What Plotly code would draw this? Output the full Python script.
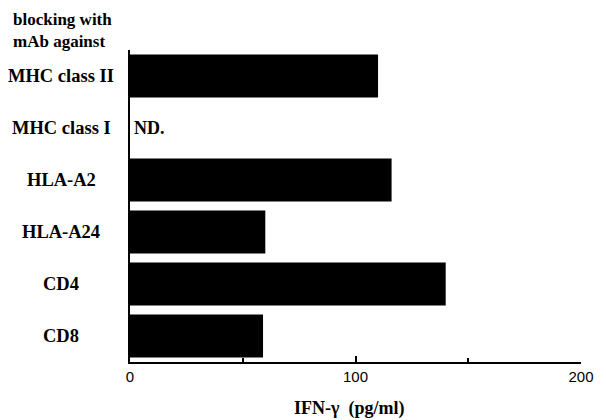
import plotly.graph_objects as go

categories = ["MHC class II", "MHC class I", "HLA-A2", "HLA-A24", "CD4", "CD8"]
ifn_gamma = [110, None, 116, 60, 140, 59]
nd_category = "MHC class I"
nd_label = "ND."
tick_values = [0, 100, 200]
tick_labels = ["0", "100", "200"]
header_text = "blocking with<br>mAb against"
x_title = "IFN-\u03b3  (pg/ml)"

serif = "Liberation Serif, Times New Roman, serif"
sans = "Liberation Sans, Arial, sans-serif"

fig = go.Figure()
fig.add_trace(go.Bar(
    y=categories, x=ifn_gamma, orientation="h",
    marker=dict(color="black", line=dict(width=0)),
    hoverinfo="skip",
))

L, R, T, B = 130, 16, 50, 58
W, H = 606, 420
pw = W - L - R
ph = H - T - B

def px_to_paper_x(px):
    return (px - L) / pw

def px_to_paper_y(py):
    return (H - B - py) / ph

annotations = []
for c in categories:
    annotations.append(dict(
        x=px_to_paper_x(60), xref="paper", y=c, yref="y",
        text="<b>" + c + "</b>", showarrow=False, xanchor="center", yanchor="middle",
        font=dict(family=serif, size=18.5, color="black"),
    ))
annotations.append(dict(
    x=px_to_paper_x(132), xref="paper", y=nd_category, yref="y",
    text="<b>" + nd_label + "</b>", showarrow=False, xanchor="left", yanchor="middle",
    font=dict(family=serif, size=18, color="black"),
))
annotations.append(dict(
    x=px_to_paper_x(9), xref="paper", y=px_to_paper_y(8), yref="paper",
    text="<b>" + header_text + "</b>", showarrow=False, xanchor="left", yanchor="top",
    align="left", font=dict(family=serif, size=17, color="black"),
))
annotations.append(dict(
    x=px_to_paper_x(353), xref="paper", y=px_to_paper_y(408), yref="paper",
    text="<b>" + x_title + "</b>", showarrow=False, xanchor="center", yanchor="middle",
    font=dict(family=serif, size=18, color="black"),
))

fig.update_layout(
    width=W, height=H,
    margin=dict(l=L, r=R, t=T, b=B, pad=0),
    plot_bgcolor="white", paper_bgcolor="white",
    showlegend=False, bargap=0.17,
    annotations=annotations,
    xaxis=dict(
        range=[0, 200], tickvals=tick_values, ticktext=tick_labels,
        showline=True, linecolor="black", linewidth=2,
        ticks="inside", ticklen=6, tickwidth=2, tickcolor="black",
        minor=dict(tickvals=[50, 150], ticks="inside", ticklen=4, tickwidth=1.5, tickcolor="black"),
        showgrid=False, zeroline=False,
        tickfont=dict(family=sans, size=15, color="black"),
        fixedrange=True,
    ),
    yaxis=dict(
        categoryorder="array", categoryarray=categories[::-1],
        showline=True, linecolor="black", linewidth=1.5,
        showticklabels=False, ticks="", showgrid=False, zeroline=False,
        range=[-0.5, len(categories) - 0.5],
        fixedrange=True,
    ),
)

fig.write_html("out.html", config={"displayModeBar": False},
               post_script="document.body.style.margin='0';document.body.style.overflow='hidden';")
